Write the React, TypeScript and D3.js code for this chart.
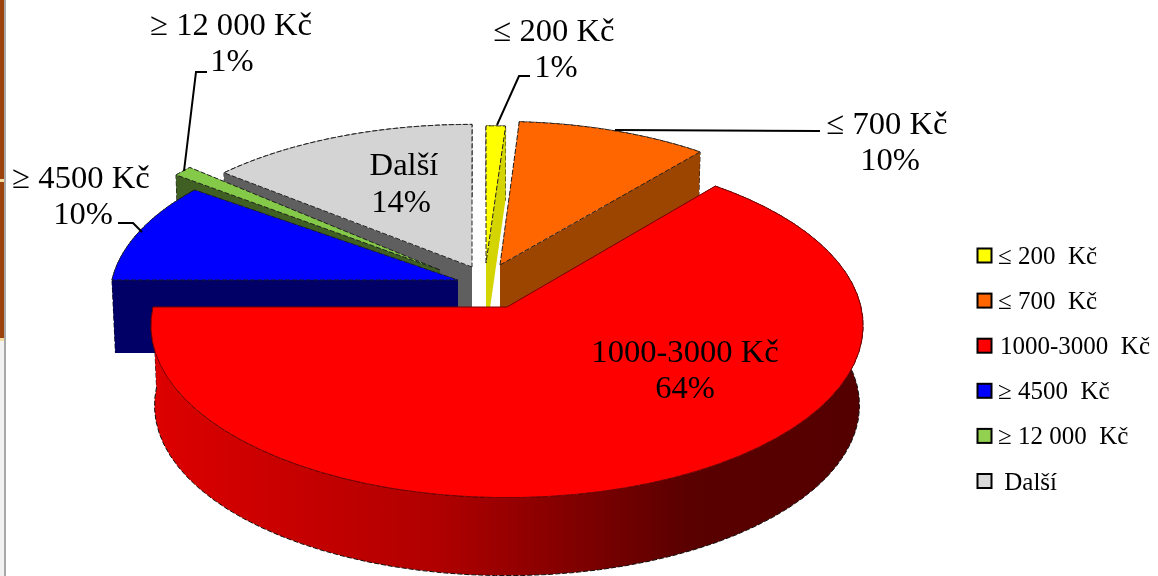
import * as d3 from 'd3';

const W = 1158;
const H = 576;

const categories = ['≤ 200 Kč', '≤ 700 Kč', '1000-3000 Kč', '≥ 4500 Kč', '≥ 12 000 Kč', 'Další'];
const legendLabels = ['≤ 200\u00a0 Kč', '≤ 700\u00a0 Kč', '1000-3000\u00a0 Kč', '≥ 4500\u00a0 Kč', '≥ 12 000\u00a0 Kč', '\u00a0Další'];
const values = [1, 10, 64, 10, 1, 14];
const topColors = ['#ffff00', '#ff6600', '#ff0000', '#0000ff', '#85c94a', '#d4d4d4'];
const legendColors = ['#ffff00', '#ff6600', '#ff0000', '#0000ff', '#92d050', '#d9d9d9'];
const wallColors = ['#d4d400', '#9c4400', 'url(#redWall)', '#000066', '#3f5f22', '#5f5f5f'];

// each slice is pulled out on its own, so each gets its own apex and radii
const apexX = [486, 500, 507, 458, 440, 472];
const apexY = [263, 265, 307, 280, 270, 267];
const radiusX = [346, 340, 354, 346, 347, 344];
const radiusY = [152, 159, 170, 163, 172, 158];
const depths = [73, 73, 80, 73, 73, 73];
const drawOrder = [5, 4, 3, 0, 1, 2];

const PERSPECTIVE = 0.108;
const FLOOR_SCALE = 0.99;

const pieAngles = d3.pie<number>().sort(null).value((d) => d)(values);

function project(i: number, angle: number, low: boolean): [number, number] {
  const u = Math.sin(angle);
  const v = Math.cos(angle);
  const p = 1 / (1 + PERSPECTIVE * v);
  const s = low ? FLOOR_SCALE : 1;
  const d = low ? depths[i] : 0;
  return [apexX[i] + radiusX[i] * u * p * s, apexY[i] - radiusY[i] * v * p * s + d];
}

const line = d3.line();

function arcPoints(i: number, low: boolean): [number, number][] {
  const { startAngle, endAngle } = pieAngles[i];
  return d3.range(0, 61).map((k) => project(i, startAngle + ((endAngle - startAngle) * k) / 60, low));
}

function topPath(i: number) {
  const apex: [number, number] = [apexX[i], apexY[i]];
  return line([apex, ...arcPoints(i, false)]) + 'Z';
}

function outerWall(i: number) {
  return line([...arcPoints(i, false), ...arcPoints(i, true).reverse()]) + 'Z';
}

function cutWall(i: number, angle: number) {
  const a: [number, number] = [apexX[i], apexY[i]];
  const b: [number, number] = [apexX[i], apexY[i] + depths[i]];
  return line([a, project(i, angle, false), project(i, angle, true), b]) + 'Z';
}

const serif = '"Liberation Serif", "Times New Roman", serif';

const labelLines = [
  { x: 231, y: 35, t: '≥ 12 000 Kč' },
  { x: 232, y: 71, t: '1%' },
  { x: 554, y: 41, t: '≤ 200 Kč' },
  { x: 556, y: 77, t: '1%' },
  { x: 887, y: 134, t: '≤ 700 Kč' },
  { x: 890, y: 170, t: '10%' },
  { x: 81, y: 188, t: '≥ 4500 Kč' },
  { x: 83, y: 224, t: '10%' },
  { x: 404, y: 175, t: 'Další' },
  { x: 401, y: 212, t: '14%' },
  { x: 685, y: 362, t: '1000-3000 Kč' },
  { x: 685, y: 398, t: '64%' },
];

const leaders: [number, number][][] = [
  [[184, 171], [196, 72], [207, 72]],
  [[497, 125], [519, 76], [530, 76]],
  [[615, 130], [820, 131]],
  [[118, 223], [133, 223], [142, 232]],
];

const legendY = d3.scalePoint<string>().domain(categories).range([255.5, 481]);
const legendTextX = [998, 998, 1000, 998, 998, 998];

export default function App() {
  return (
    <svg
      width={W}
      height={H}
      viewBox={`0 0 ${W} ${H}`}
      style={{ position: 'absolute', left: 0, top: 0, background: '#fff', fontFamily: serif }}
    >
      <defs>
        <linearGradient id="redWall" gradientUnits="userSpaceOnUse" x1={153} x2={864} y1={0} y2={0}>
          <stop offset="0" stopColor="#dd0000" />
          <stop offset="0.4" stopColor="#b00000" />
          <stop offset="0.75" stopColor="#5a0000" />
          <stop offset="1" stopColor="#540000" />
        </linearGradient>
        <filter id="soft" x="0" y="0" width="100%" height="100%">
          <feGaussianBlur stdDeviation="0.35" />
        </filter>
      </defs>

      <g filter="url(#soft)">
        <rect x={0} y={0} width={4} height={338} fill="#9c4308" />
        <rect x={0} y={338} width={4} height={3} fill="#f5dca0" />
        <rect x={0} y={341} width={4} height={H - 341} fill="#f2f2f2" />
        <rect x={0} y={179} width={4} height={3} fill="#f5dca0" />
        <rect x={4} y={0} width={2} height={H} fill="#a8a8a8" />

        {drawOrder.map((i) => (
          <g key={categories[i]}>
            <path d={outerWall(i)} fill={wallColors[i]} stroke="#111" strokeWidth={1} strokeDasharray="5 2" />
            <path d={cutWall(i, pieAngles[i].startAngle)} fill={wallColors[i]} />
            <path d={cutWall(i, pieAngles[i].endAngle)} fill={wallColors[i]} />
            <path
              d={topPath(i)}
              fill={topColors[i]}
              stroke={i === 2 ? '#7a0000' : '#222'}
              strokeWidth={1}
              strokeDasharray={i === 2 ? undefined : '5 2'}
            />
          </g>
        ))}

        {leaders.map((pts, i) => (
          <path key={i} d={line(pts) ?? ''} fill="none" stroke="#000" strokeWidth={2} />
        ))}

        <g fontSize={32.6} textAnchor="middle" fill="#000">
          {labelLines.map((d) => (
            <text key={d.t + d.y} x={d.x} y={d.y}>{d.t}</text>
          ))}
        </g>

        <g fontSize={25} fill="#000">
          {categories.map((c, i) => (
            <g key={c}>
              <rect x={977.5} y={(legendY(c) ?? 0) - 7} width={14} height={14} fill={legendColors[i]} stroke="#000" strokeWidth={2} />
              <text x={legendTextX[i]} y={(legendY(c) ?? 0) + 8.5}>{legendLabels[i]}</text>
            </g>
          ))}
        </g>
      </g>
    </svg>
  );
}
